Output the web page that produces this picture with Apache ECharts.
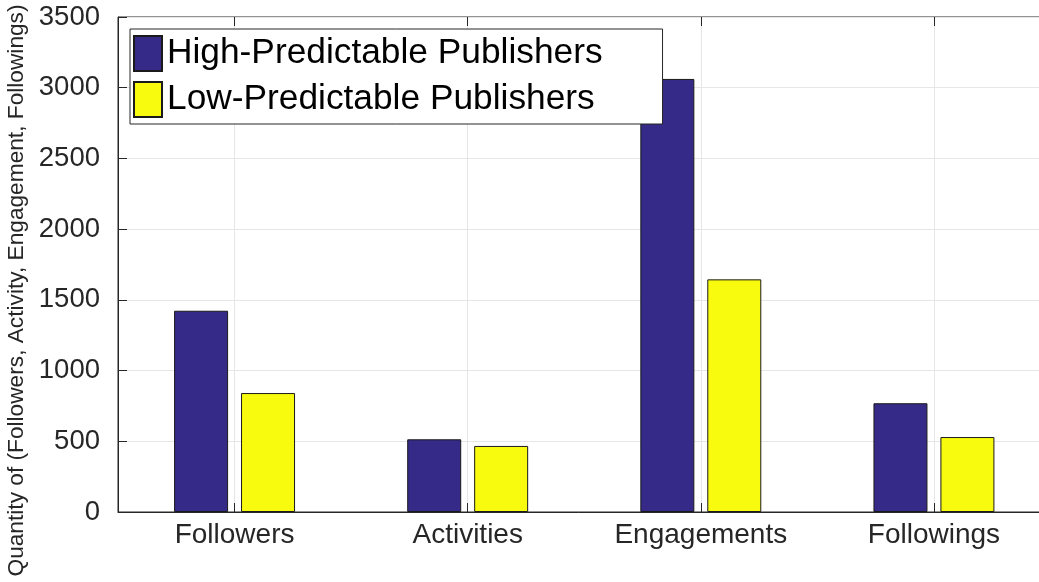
<!DOCTYPE html>
<html>
<head>
<meta charset="utf-8">
<script src="https://cdn.jsdelivr.net/npm/echarts@6/dist/echarts.min.js"></script>
<style>
html,body{margin:0;padding:0;background:#fff;}
#chart{width:1039px;height:582px;}
</style>
</head>
<body>
<div id="chart"></div>
<script>
const categories = ['Followers', 'Activities', 'Engagements', 'Followings'];
const highValues = [1423, 514, 3062, 769];
const lowValues = [841, 467, 1645, 530];
const seriesNames = ['High-Predictable Publishers', 'Low-Predictable Publishers'];
const yTitle = 'Quantity of (Followers, Activity, Engagement, Followings)';

const FONT = 'Liberation Sans, Arial, Helvetica, sans-serif';
const chart = echarts.init(document.getElementById('chart'), null, {renderer: 'canvas'});
chart.setOption({
  animation: false,
  backgroundColor: '#ffffff',
  textStyle: {fontFamily: FONT},
  grid: {left: 118, top: 17, right: -11.5, bottom: 70, containLabel: false, outerBoundsMode: 'none', show: true, borderColor: '#262626', borderWidth: 1, backgroundColor: '#ffffff'},
  legend: {
    orient: 'vertical',
    left: 130,
    top: 29,
    padding: [6, 60, 6, 3],
    itemWidth: 28,
    itemHeight: 35,
    itemGap: 9,
    icon: 'rect',
    backgroundColor: '#ffffff',
    borderColor: '#262626',
    borderWidth: 1,
    textStyle: {fontSize: 35.3, color: '#000000', fontFamily: FONT, padding: [0, 0, 0, 0], lineHeight: 35},
    data: seriesNames
  },
  xAxis: [{
    type: 'category',
    data: categories,
    position: 'bottom',
    axisLine: {show: true, lineStyle: {color: '#262626', width: 1}},
    axisTick: {show: true, inside: true, alignWithLabel: true, length: 9, lineStyle: {color: '#262626'}},
    axisLabel: {fontSize: 28, color: '#262626', margin: 9, fontFamily: FONT},
    splitLine: {show: true, alignWithLabel: true, lineStyle: {color: '#e6e6e6', width: 1}}
  }, {
    type: 'category',
    data: categories,
    position: 'top',
    axisLine: {show: false},
    axisTick: {show: true, inside: true, alignWithLabel: true, length: 9, lineStyle: {color: '#262626'}},
    axisLabel: {show: false},
    splitLine: {show: false}
  }],
  yAxis: {
    type: 'value',
    min: 0,
    max: 3500,
    interval: 500,
    name: yTitle,
    nameLocation: 'middle',
    nameRotate: 90,
    nameGap: 85,
    nameTextStyle: {fontSize: 22.7, color: '#262626', fontFamily: FONT, padding: [0, 52, 0, 0]},
    axisLine: {show: true, lineStyle: {color: '#262626', width: 1}},
    axisTick: {show: true, inside: true, length: 9, lineStyle: {color: '#262626'}},
    axisLabel: {fontSize: 27.5, color: '#262626', margin: 18, fontFamily: FONT, formatter: function (v) { return String(v); }},
    splitLine: {show: true, lineStyle: {color: '#e6e6e6', width: 1}}
  },
  series: [{
    name: seriesNames[0],
    type: 'bar',
    data: highValues,
    barWidth: 54,
    barGap: '24%',
    itemStyle: {color: '#352a87', borderColor: '#1a1a1a', borderWidth: 1}
  }, {
    name: seriesNames[1],
    type: 'bar',
    data: lowValues,
    barWidth: 54,
    barGap: '24%',
    itemStyle: {color: '#f9fb0e', borderColor: '#1a1a1a', borderWidth: 1}
  }]
});
</script>
</body>
</html>
